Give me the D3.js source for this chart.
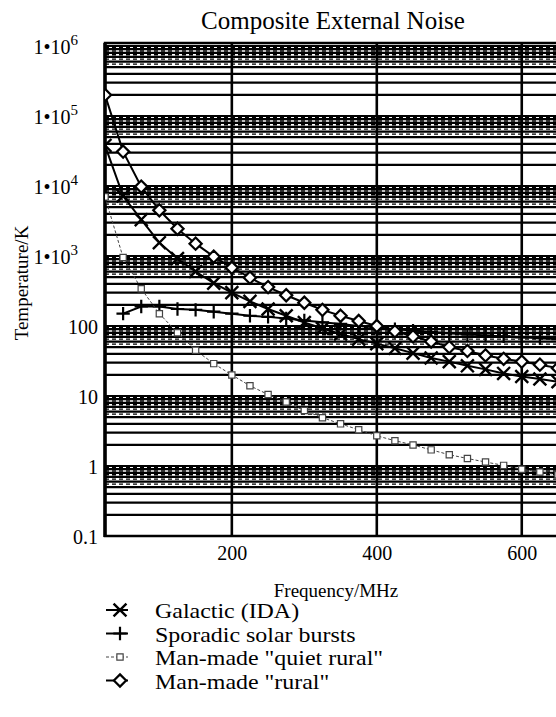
<!DOCTYPE html>
<html>
<head>
<meta charset="utf-8">
<script src="https://cdn.jsdelivr.net/npm/d3@7"></script>
<style>
    body { margin: 0; background: #fff; }
    svg { display: block; font-family: "Liberation Serif", "Times New Roman", serif; }
</style>
</head>
<body>
<div id="chart"></div>
<script>
// frequencies (MHz) the curves were sampled at
const freqs = [25, 50, 75, 100, 125, 150, 175, 200, 225, 250, 275, 300, 325, 350, 375, 400, 425, 450, 475, 500, 525, 550, 575, 600, 625, 650]

// noise temperatures in K
const galactic = [38000, 7200, 3300, 1550, 920, 600, 410, 300, 225, 175, 140, 112, 92, 77, 65, 56, 48, 41, 35, 31, 27, 24, 21, 19, 17.5, 16]
const solarFreqs = [50, 75, 100, 125, 150, 175, 200, 225, 250, 275, 300, 325, 350, 375, 400, 425, 450, 475, 500, 525, 550, 575, 600, 625, 650]
const solar = [150, 190, 190, 175, 170, 160, 150, 140, 135, 128, 120, 113, 107, 100, 95, 90, 86, 82, 79, 76, 73, 71, 69, 67, 65]
const quietRural = [7000, 950, 340, 150, 80, 45, 29, 20, 14, 10.5, 8.2, 6.2, 4.9, 4.0, 3.3, 2.7, 2.3, 2.0, 1.7, 1.45, 1.28, 1.14, 1.02, 0.9, 0.82, 0.75]
const rural = [200000, 31000, 9800, 4500, 2450, 1500, 980, 680, 490, 360, 275, 215, 170, 140, 118, 100, 84, 71, 60, 50, 44, 38, 34, 31, 28, 25]

const yTicks = [0.1, 1, 10, 100, 1000, 10000, 100000, 1000000]
const xTicks = [200, 400, 600]
const legendLabels = ["Galactic (IDA)", "Sporadic solar bursts", "Man-made \"quiet rural\"", "Man-made \"rural\""]

const width = 556
const height = 717
// the original plot runs a little past the right edge of the scan
const plotL = 105, plotR = 558, plotT = 46, plotB = 536

const svg = d3.select("#chart").append("svg")
    .attr("width", width)
    .attr("height", height)

const x = d3.scaleLinear().domain([25, 650]).range([plotL, plotR])
const y = d3.scaleLog().domain([0.1, 1e6]).range([plotB, plotT])

svg.append("clipPath").attr("id", "plotclip")
    .append("rect")
    .attr("x", plotL).attr("y", plotT - 3)
    .attr("width", plotR - plotL).attr("height", plotB - plotT + 3)

// --- grid: every 1..9 line per decade, plus dashed fillers near the top of each decade
const grid = svg.append("g").attr("clip-path", "url(#plotclip)")
const minorVals = [], fillVals = []
for (let e = -1; e < 6; e++) {
    for (let k = 1; k <= 9; k++) minorVals.push(k * Math.pow(10, e))
    for (const k of [5.5, 6.5, 7.5, 8.5, 9.5]) fillVals.push(k * Math.pow(10, e))
}
minorVals.push(1e6)

grid.selectAll("line.minor")
    .data(minorVals)
    .join("line")
    .attr("class", "minor")
    .attr("x1", plotL).attr("x2", plotR)
    .attr("y1", d => y(d)).attr("y2", d => y(d))
    .attr("stroke", "#000")
    .attr("stroke-width", 2.2)

grid.selectAll("line.fill")
    .data(fillVals)
    .join("line")
    .attr("class", "fill")
    .attr("x1", plotL).attr("x2", plotR)
    .attr("y1", d => y(d)).attr("y2", d => y(d))
    .attr("stroke", "#000")
    .attr("stroke-width", 1.4)
    .attr("stroke-dasharray", "4,3")

grid.selectAll("line.vert")
    .data(xTicks)
    .join("line")
    .attr("class", "vert")
    .attr("x1", d => x(d)).attr("x2", d => x(d))
    .attr("y1", plotT - 3).attr("y2", plotB)
    .attr("stroke", "#000")
    .attr("stroke-width", 2.6)

// frame
svg.append("rect")
    .attr("x", plotL).attr("y", plotT - 3)
    .attr("width", plotR - plotL).attr("height", plotB - plotT + 3)
    .attr("fill", "none")
    .attr("stroke", "#000")
    .attr("stroke-width", 2.5)
svg.append("line")
    .attr("x1", plotL).attr("x2", plotL)
    .attr("y1", plotT - 3).attr("y2", plotB + 1)
    .attr("stroke", "#000").attr("stroke-width", 3.5)

// --- series
const series = [
    { name: legendLabels[0], xs: freqs, vals: galactic, symbol: d3.symbolTimes, size: 110, lw: 2, dash: null, col: "#000", mw: 2.4, fill: "none" },
    { name: legendLabels[1], xs: solarFreqs, vals: solar, symbol: d3.symbolPlus, size: 60, lw: 2, dash: null, col: "#000", mw: 2.2, fill: "none" },
    { name: legendLabels[2], xs: freqs, vals: quietRural, symbol: d3.symbolSquare2, size: 50, lw: 1, dash: "3,2", col: "#444", mw: 1.2, fill: "#fff" },
    { name: legendLabels[3], xs: freqs, vals: rural, symbol: d3.symbolDiamond2, size: 95, lw: 2, dash: null, col: "#000", mw: 2.2, fill: "#fff" }
]

const plot = svg.append("g").attr("clip-path", "url(#plotclip)")
const line = d3.line().x(d => x(d[0])).y(d => y(d[1]))

series.forEach(s => {
    const pts = s.xs.map((f, i) => [f, s.vals[i]])
    plot.append("path")
        .datum(pts)
        .attr("d", line)
        .attr("fill", "none")
        .attr("stroke", s.col)
        .attr("stroke-width", s.lw)
        .attr("stroke-dasharray", s.dash)
    plot.selectAll(null)
        .data(pts)
        .join("path")
        .attr("transform", d => `translate(${x(d[0])},${y(d[1])})`)
        .attr("d", d3.symbol(s.symbol, s.size))
        .attr("fill", s.fill)
        .attr("stroke", s.col)
        .attr("stroke-width", s.mw)
})

// --- axes (labels only, the frame does the rest)
const yAxis = svg.append("g")
    .attr("transform", `translate(${plotL},0)`)
    .call(d3.axisLeft(y).tickValues(yTicks).tickSize(0)
        .tickFormat(d => d >= 1000 ? "1\u202210" : d3.format("~g")(d)))
yAxis.select(".domain").remove()
yAxis.selectAll("text")
    .attr("font-family", "Liberation Serif, serif")
    .attr("font-size", 20)
    .attr("fill", "#000")
    .attr("x", d => d >= 1000 ? -27 : -7)
    .attr("dy", "0.36em")
yAxis.selectAll("text").filter(d => d >= 1000)
    .append("tspan")
    .attr("dy", "-0.6em")
    .attr("font-size", 15)
    .text(d => Math.round(Math.log10(d)))

const xAxis = svg.append("g")
    .attr("transform", `translate(0,${plotB})`)
    .call(d3.axisBottom(x).tickValues(xTicks).tickSize(0).tickPadding(10))
xAxis.select(".domain").remove()
xAxis.selectAll("text")
    .attr("font-family", "Liberation Serif, serif")
    .attr("font-size", 20)
    .attr("fill", "#000")

// titles
svg.append("text")
    .attr("x", 333).attr("y", 29)
    .attr("text-anchor", "middle")
    .attr("font-size", 25)
    .text("Composite External Noise")

svg.append("text")
    .attr("x", 336).attr("y", 597)
    .attr("text-anchor", "middle")
    .attr("font-size", 19)
    .text("Frequency/MHz")

svg.append("text")
    .attr("transform", "translate(28,283) rotate(-90)")
    .attr("text-anchor", "middle")
    .attr("font-size", 19)
    .text("Temperature/K")

// legend - the scan's legend type is a bit wider than it is tall, hence the x stretch
const legend = svg.append("g")
series.forEach((s, i) => {
    const by = 618 + i * 23.5
    const g = legend.append("g").attr("transform", `translate(0,${by - 8})`)
    g.append("line")
        .attr("x1", 106).attr("x2", 128)
        .attr("stroke", s.col).attr("stroke-width", s.lw)
        .attr("stroke-dasharray", s.dash)
    g.append("path")
        .attr("transform", "translate(120,0)")
        .attr("d", d3.symbol(s.symbol, s.size))
        .attr("fill", s.fill)
        .attr("stroke", s.col)
        .attr("stroke-width", s.mw)
    legend.append("text")
        .attr("transform", `translate(155,${by}) scale(1.14,1)`)
        .attr("font-size", 21)
        .text(s.name)
})
</script>
</body>
</html>
